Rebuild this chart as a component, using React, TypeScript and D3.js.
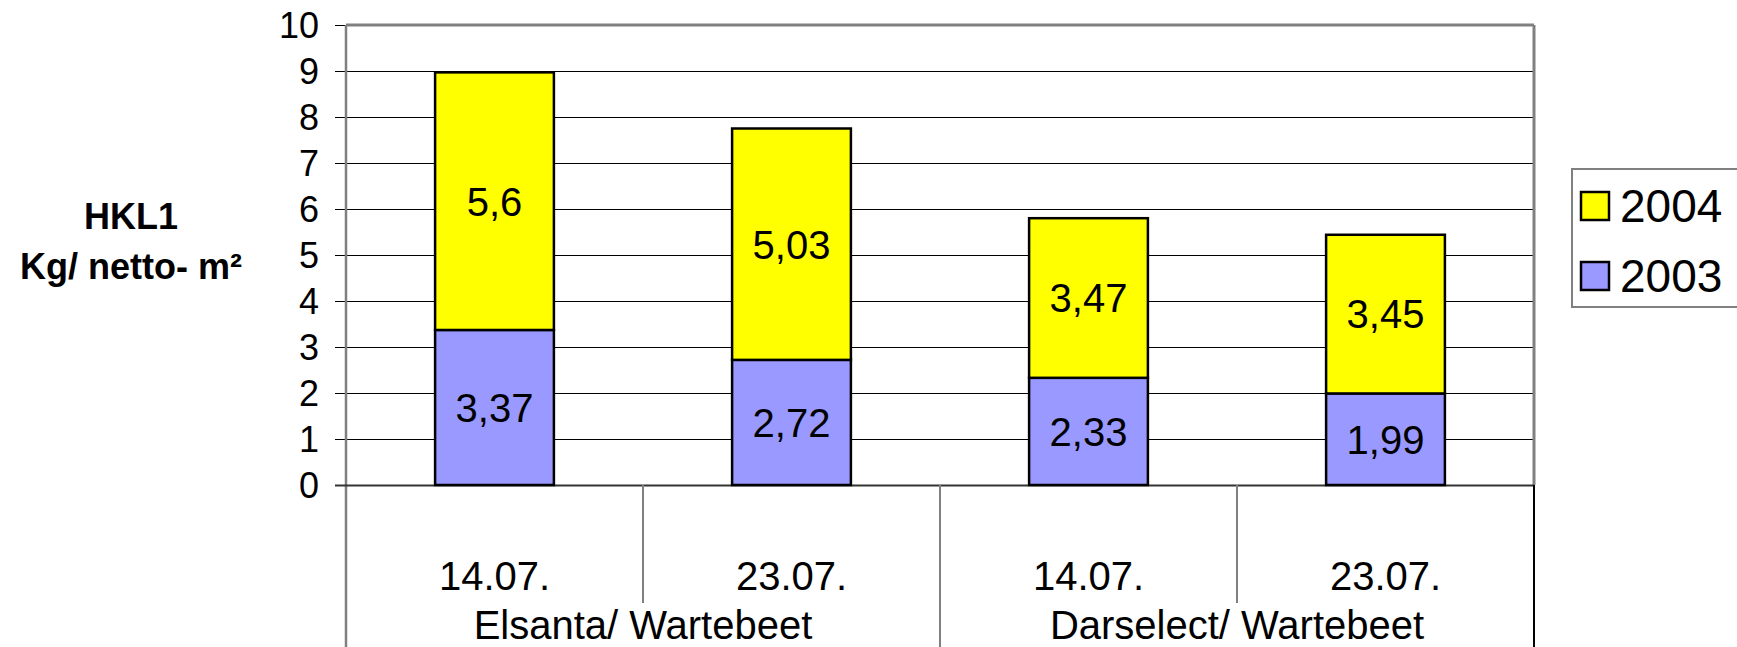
import React from "react";
import * as d3 from "d3";

const categories = ["14.07.", "23.07.", "14.07.", "23.07."];
const groups = ["Elsanta/ Wartebeet", "Darselect/ Wartebeet"];
const series2003 = [3.37, 2.72, 2.33, 1.99];
const series2004 = [5.6, 5.03, 3.47, 3.45];
const labels2003 = ["3,37", "2,72", "2,33", "1,99"];
const labels2004 = ["5,6", "5,03", "3,47", "3,45"];
const yTicks = [0, 1, 2, 3, 4, 5, 6, 7, 8, 9, 10];
const legendItems = [
  { name: "2004", color: "#FFFF00" },
  { name: "2003", color: "#9999FF" },
];

const W = 1737;
const H = 647;
const L = 346, R = 1534, T = 25, B = 485;
const FONT = "'Liberation Sans', Arial, Helvetica, sans-serif";

export default function App() {
  const band = (R - L) / categories.length;
  const x = d3.scaleBand<number>().domain(d3.range(categories.length)).range([L, R]).paddingInner(0.6).paddingOuter(0.3);
  const y = d3.scaleLinear().domain([0, 10]).range([B, T]);
  const bw = x.bandwidth();
  const cx = (i: number) => (x(i) as number) + bw / 2;
  const fsData = 40;
  const fsTick = 36;

  return (
    <div style={{ position: "absolute", left: 0, top: 0 }}>
      <svg width={W} height={H} style={{ display: "block", fontFamily: FONT }}>
        <rect x={0} y={0} width={W} height={H} fill="#fff" />
        {/* gridlines */}
        {yTicks.map((t) => (
          <line key={"g" + t} x1={335} x2={R} y1={Math.round(y(t)) + 0.5} y2={Math.round(y(t)) + 0.5} stroke="#000" strokeWidth={1.2} />
        ))}
        {/* plot border */}
        <line x1={L} x2={R} y1={T} y2={T} stroke="#808080" strokeWidth={3} />
        <line x1={R} x2={R} y1={T} y2={B} stroke="#808080" strokeWidth={3} />
        <line x1={L} x2={L} y1={T} y2={H} stroke="#808080" strokeWidth={2.5} />
        {/* category axis */}
        <line x1={335} x2={R} y1={B + 0.5} y2={B + 0.5} stroke="#333" strokeWidth={2} />
        <line x1={L + band} x2={L + band} y1={B} y2={603} stroke="#808080" strokeWidth={2} />
        <line x1={L + band * 3} x2={L + band * 3} y1={B} y2={603} stroke="#808080" strokeWidth={2} />
        <line x1={L + band * 2} x2={L + band * 2} y1={B} y2={H} stroke="#808080" strokeWidth={2} />
        <line x1={R} x2={R} y1={B} y2={H} stroke="#000" strokeWidth={2} />
        {/* bars */}
        {categories.map((_, i) => {
          const x0 = x(i) as number;
          const b0 = y(0), b1 = y(series2003[i]), b2 = y(series2003[i] + series2004[i]);
          return (
            <g key={"b" + i}>
              <rect x={x0} y={b1} width={bw} height={b0 - b1} fill="#9999FF" stroke="#000" strokeWidth={2.5} />
              <rect x={x0} y={b2} width={bw} height={b1 - b2} fill="#FFFF00" stroke="#000" strokeWidth={2.5} />
              <text x={cx(i)} y={(b0 + b1) / 2 + fsData * 0.358} textAnchor="middle" fontSize={fsData}>{labels2003[i]}</text>
              <text x={cx(i)} y={(b1 + b2) / 2 + fsData * 0.358} textAnchor="middle" fontSize={fsData}>{labels2004[i]}</text>
            </g>
          );
        })}
        {/* y tick labels */}
        {yTicks.map((t) => (
          <text key={"t" + t} x={319} y={y(t) + fsTick * 0.358} textAnchor="end" fontSize={fsTick}>{t}</text>
        ))}
        {/* category labels */}
        {categories.map((c, i) => (
          <text key={"c" + i} x={L + band * (i + 0.5)} y={590} textAnchor="middle" fontSize={40}>{c}</text>
        ))}
        {groups.map((g, i) => (
          <text key={"gr" + i} x={L + band * (2 * i + 1)} y={639} textAnchor="middle" fontSize={40}>{g}</text>
        ))}
        {/* y title */}
        <text x={131} y={229} textAnchor="middle" fontSize={36} fontWeight="bold">HKL1</text>
        <text x={131} y={279} textAnchor="middle" fontSize={36} fontWeight="bold">Kg/ netto- m²</text>
        {/* legend */}
        <rect x={1572} y={169} width={200} height={138} fill="#fff" stroke="#808080" strokeWidth={2} />
        {legendItems.map((it, i) => (
          <g key={"l" + i}>
            <rect x={1581} y={192 + i * 70} width={28} height={28} fill={it.color} stroke="#000" strokeWidth={2.5} />
            <text x={1620} y={222 + i * 70} fontSize={46}>{it.name}</text>
          </g>
        ))}
      </svg>
    </div>
  );
}
